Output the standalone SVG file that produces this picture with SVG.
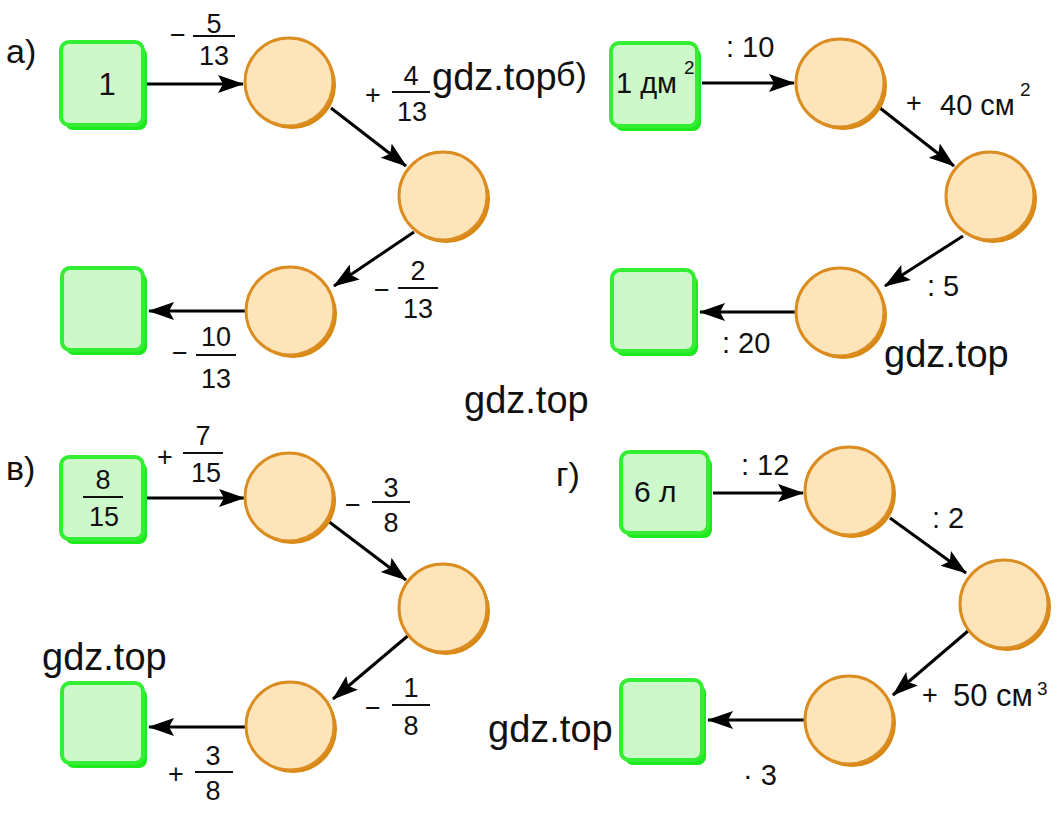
<svg xmlns="http://www.w3.org/2000/svg" width="1058" height="813" viewBox="0 0 1058 813">
<style>
.sq-sh{fill:#1ee81e;}
.sq{fill:#cdf8c9;stroke:#33ee33;stroke-width:4;}
.ci-sh{fill:#d8870f;}
.ci{fill:#fde4b9;stroke:#db8d22;stroke-width:3;}
.t{font-family:"Liberation Sans",Arial,sans-serif;fill:#111;}
.f{font-size:27px;text-anchor:middle;}
.l{font-size:29px;}
.p{font-size:27px;}
.g{font-size:38px;}
.s{font-size:19px;}
.fl{stroke:#111;stroke-width:2;}
.ar{stroke:#000;stroke-width:3;fill:none;marker-end:url(#ah);}
</style>
<defs>
<marker id="ah" markerUnits="userSpaceOnUse" markerWidth="30" markerHeight="20" refX="25" refY="9" orient="auto">
<path d="M0,0 L26,9 L0,18 L5,9 Z" fill="#000"/>
</marker>
</defs>
<rect width="1058" height="813" fill="#fff"/>

<g id="connectors">
<line class="ar" x1="147" y1="84" x2="243" y2="84"/>
<line class="ar" x1="331" y1="108" x2="406" y2="166"/>
<line class="ar" x1="414" y1="232" x2="334" y2="286"/>
<line class="ar" x1="246" y1="311" x2="149" y2="311"/>

<line class="ar" x1="702" y1="83" x2="794" y2="83"/>
<line class="ar" x1="880" y1="108" x2="954" y2="166"/>
<line class="ar" x1="963" y1="236" x2="885" y2="286"/>
<line class="ar" x1="797" y1="312" x2="700" y2="312"/>

<line class="ar" x1="147" y1="498" x2="244" y2="498"/>
<line class="ar" x1="328" y1="521" x2="406" y2="580"/>
<line class="ar" x1="410" y1="634" x2="333" y2="699"/>
<line class="ar" x1="246" y1="727" x2="149" y2="727"/>

<line class="ar" x1="713" y1="493" x2="803" y2="493"/>
<line class="ar" x1="890" y1="518" x2="966" y2="573"/>
<line class="ar" x1="968" y1="631" x2="893" y2="695"/>
<line class="ar" x1="805" y1="720" x2="708" y2="720"/>
</g>

<!-- Panel а -->
<text class="t" x="6" y="63" font-size="34">а)</text>
<g id="a-start">
<rect class="sq-sh" x="65" y="47" width="82" height="83" rx="8"/>
<rect class="sq" x="61" y="42" width="82" height="83" rx="8"/>
<text class="t" x="107" y="95" font-size="31" text-anchor="middle">1</text>
</g>
<g id="a-c1"><circle class="ci-sh" cx="292" cy="85" r="44"/><circle class="ci" cx="289" cy="82" r="44"/></g>
<g id="a-c2"><circle class="ci-sh" cx="446" cy="199" r="44"/><circle class="ci" cx="443" cy="196" r="44"/></g>
<g id="a-c3"><circle class="ci-sh" cx="293" cy="314" r="44"/><circle class="ci" cx="290" cy="311" r="44"/></g>
<g id="a-end">
<rect class="sq-sh" x="66" y="273" width="81" height="82" rx="8"/>
<rect class="sq" x="62" y="268" width="81" height="82" rx="8"/>
</g>
<g id="a-labels">
<text class="t p" x="170" y="44">−</text>
<text class="t f" x="214" y="33">5</text><line class="fl" x1="193" y1="36" x2="235" y2="36"/><text class="t f" x="214" y="65">13</text>
<text class="t p" x="365" y="104">+</text>
<text class="t f" x="411" y="85">4</text><line class="fl" x1="392" y1="92" x2="430" y2="92"/><text class="t f" x="412" y="121">13</text>
<text class="t p" x="374" y="299">−</text>
<text class="t f" x="418" y="280">2</text><line class="fl" x1="398" y1="288" x2="438" y2="288"/><text class="t f" x="418" y="318">13</text>
<text class="t p" x="172" y="362">−</text>
<text class="t f" x="216" y="346">10</text><line class="fl" x1="196" y1="355" x2="236" y2="355"/><text class="t f" x="216" y="388">13</text>
</g>

<!-- Panel б -->
<text class="t" x="556" y="86" font-size="34">б)</text>
<g id="b-start">
<rect class="sq-sh" x="615" y="48" width="86" height="83" rx="8"/>
<rect class="sq" x="611" y="43" width="86" height="83" rx="8"/>
<text class="t" x="616" y="93" font-size="29">1 дм</text>
<text class="t s" x="684" y="74">2</text>
</g>
<g id="b-c1"><circle class="ci-sh" cx="843" cy="86" r="44"/><circle class="ci" cx="840" cy="83" r="44"/></g>
<g id="b-c2"><circle class="ci-sh" cx="993" cy="199" r="44"/><circle class="ci" cx="990" cy="196" r="44"/></g>
<g id="b-c3"><circle class="ci-sh" cx="843" cy="315" r="44"/><circle class="ci" cx="840" cy="312" r="44"/></g>
<g id="b-end">
<rect class="sq-sh" x="616" y="275" width="82" height="81" rx="8"/>
<rect class="sq" x="612" y="270" width="82" height="81" rx="8"/>
</g>
<g id="b-labels">
<text class="t l" x="726" y="57">: 10</text>
<text class="t p" x="906" y="112">+</text>
<text class="t l" x="940" y="115">40 см</text>
<text class="t s" x="1020" y="96">2</text>
<text class="t l" x="927" y="296">: 5</text>
<text class="t l" x="722" y="353">:  20</text>
</g>

<!-- Panel в -->
<text class="t" x="6" y="480" font-size="34">в)</text>
<g id="v-start">
<rect class="sq-sh" x="65" y="462" width="82" height="82" rx="8"/>
<rect class="sq" x="61" y="457" width="82" height="82" rx="8"/>
<text class="t f" x="103" y="489">8</text><line class="fl" x1="83" y1="497" x2="123" y2="497"/><text class="t f" x="104" y="526">15</text>
</g>
<g id="v-c1"><circle class="ci-sh" cx="292" cy="500" r="44"/><circle class="ci" cx="289" cy="497" r="44"/></g>
<g id="v-c2"><circle class="ci-sh" cx="446" cy="611" r="44"/><circle class="ci" cx="443" cy="608" r="44"/></g>
<g id="v-c3"><circle class="ci-sh" cx="293" cy="729" r="44"/><circle class="ci" cx="290" cy="726" r="44"/></g>
<g id="v-end">
<rect class="sq-sh" x="66" y="688" width="81" height="80" rx="8"/>
<rect class="sq" x="62" y="683" width="81" height="80" rx="8"/>
</g>
<g id="v-labels">
<text class="t p" x="157" y="466">+</text>
<text class="t f" x="203" y="445">7</text><line class="fl" x1="183" y1="453" x2="223" y2="453"/><text class="t f" x="206" y="482">15</text>
<text class="t p" x="345" y="514">−</text>
<text class="t f" x="391" y="497">3</text><line class="fl" x1="372" y1="502" x2="410" y2="502"/><text class="t f" x="391" y="532">8</text>
<text class="t p" x="365" y="717">−</text>
<text class="t f" x="411" y="697">1</text><line class="fl" x1="392" y1="705" x2="430" y2="705"/><text class="t f" x="411" y="735">8</text>
<text class="t p" x="168" y="783">+</text>
<text class="t f" x="213" y="765">3</text><line class="fl" x1="195" y1="772" x2="233" y2="772"/><text class="t f" x="213" y="800">8</text>
</g>

<!-- Panel г -->
<text class="t" x="556" y="486" font-size="34">г)</text>
<g id="g-start">
<rect class="sq-sh" x="625" y="457" width="87" height="81" rx="8"/>
<rect class="sq" x="621" y="452" width="87" height="81" rx="8"/>
<text class="t" x="634" y="502" font-size="30">6 л</text>
</g>
<g id="g-c1"><circle class="ci-sh" cx="852" cy="494" r="44"/><circle class="ci" cx="849" cy="491" r="44"/></g>
<g id="g-c2"><circle class="ci-sh" cx="1007" cy="607" r="44"/><circle class="ci" cx="1004" cy="604" r="44"/></g>
<g id="g-c3"><circle class="ci-sh" cx="852" cy="723" r="44"/><circle class="ci" cx="849" cy="720" r="44"/></g>
<g id="g-end">
<rect class="sq-sh" x="625" y="685" width="81" height="80" rx="8"/>
<rect class="sq" x="621" y="680" width="81" height="80" rx="8"/>
</g>
<g id="g-labels">
<text class="t l" x="741" y="475">: 12</text>
<text class="t l" x="932" y="528">: 2</text>
<text class="t p" x="922" y="704">+</text>
<text class="t" x="953" y="706" font-size="31">50 см</text>
<text class="t s" x="1037" y="695">3</text>
<text class="t l" x="743" y="785">· 3</text>
</g>

<!-- watermarks -->
<text class="t g" x="432" y="90">gdz.top</text>
<text class="t g" x="884" y="367">gdz.top</text>
<text class="t g" x="464" y="413">gdz.top</text>
<text class="t g" x="42" y="670">gdz.top</text>
<text class="t g" x="488" y="742">gdz.top</text>
</svg>
